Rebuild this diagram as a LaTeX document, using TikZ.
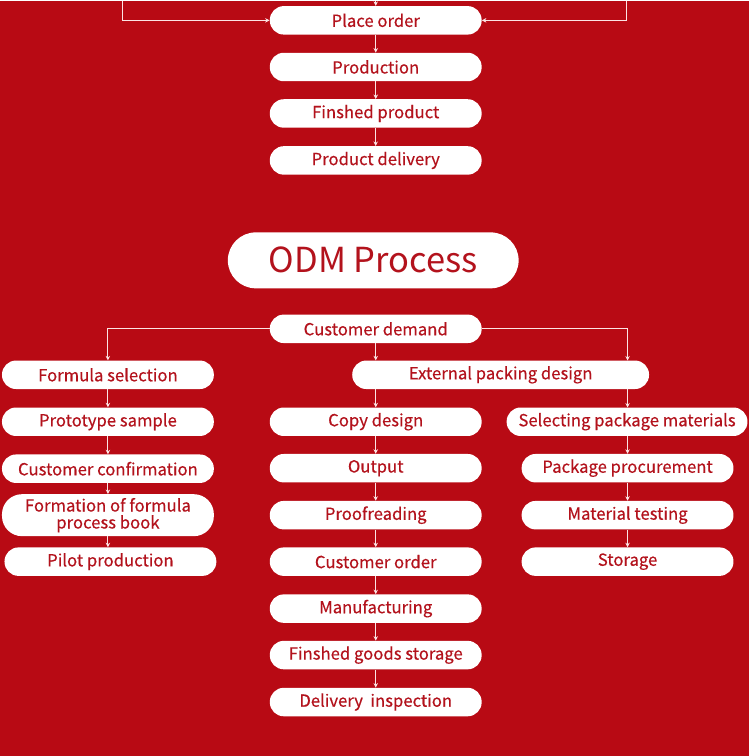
\documentclass[tikz,border=0pt]{standalone}
\usepackage{fontspec}
\setmainfont{Noto Sans CJK SC}[FakeBold=0.35]
\newfontfamily\odmtitlefont{Noto Sans CJK SC}
\usetikzlibrary{arrows.meta}
\definecolor{odmred}{HTML}{B80A14}
\definecolor{odmtext}{HTML}{B3121C}
\definecolor{odmline}{HTML}{FCE4E4}
\begin{document}
\begin{tikzpicture}[x=1pt,y=-1pt,
  stepbox/.style={fill=white,text=odmtext,rounded corners=14pt,minimum width=212pt,minimum height=28.5pt,inner sep=0pt,font=\fontsize{16.7}{18}\selectfont},
  flow/.style={draw=odmline,line width=1.1pt,-{Stealth[length=4.5pt,width=4.5pt]}}]
\fill[odmred] (0,0) rectangle (750,756);
\coordinate (tl) at (123,0);
\coordinate (tm) at (376,0);
\coordinate (tr) at (626.5,0);
\node[stepbox] (po) at (376,19.8) {Place order};
\node[stepbox] (prod) at (376,66.5) {Production};
\node[stepbox] (fin) at (376,113) {Finshed product};
\node[stepbox] (del) at (376,160) {Product delivery};
\node[stepbox,minimum width=291pt,minimum height=56pt,rounded corners=28pt,font=\odmtitlefont\fontsize{34.5}{38}\selectfont] (title) at (373.5,260) {ODM Process};
\node[stepbox] (cd) at (376,328.5) {Customer demand};
\node[stepbox] (fs) at (108,374.5) {Formula selection};
\node[stepbox] (ps) at (108,421.5) {Prototype sample};
\node[stepbox] (cc) at (108,468.5) {Customer confirmation};
\node[stepbox,minimum height=42pt,rounded corners=20pt,align=center,font=\fontsize{16.7}{17}\selectfont] (ff) at (108,515) {Formation of formula\\process book};
\node[stepbox] (pp) at (110.5,561.5) {Pilot production};
\node[stepbox,minimum width=297pt] (epd) at (501,374.5) {External packing design};
\node[stepbox] (cpd) at (376,421.5) {Copy design};
\node[stepbox] (out) at (376,468) {Output};
\node[stepbox] (pr) at (376,515) {Proofreading};
\node[stepbox] (co) at (376,561.5) {Customer order};
\node[stepbox] (mf) at (376,608.5) {Manufacturing};
\node[stepbox] (fgs) at (376,655) {Finshed goods storage};
\node[stepbox] (di) at (376,702) {Delivery\ \ inspection};
\node[stepbox,minimum width=241pt] (spm) at (627.5,421.5) {Selecting package materials};
\node[stepbox] (ppr) at (628,468) {Package procurement};
\node[stepbox] (mt) at (628,515) {Material testing};
\node[stepbox] (st) at (628,561.5) {Storage};
\draw[flow] (tm) -- (po);
\draw[flow] (tl) |- (po);
\draw[flow] (tr) |- (po);
\foreach \a/\b in {po/prod,prod/fin,fin/del,fs/ps,ps/cc,cc/ff,cpd/out,out/pr,pr/co,co/mf,mf/fgs,fgs/di,ppr/mt,mt/st}
  \draw[flow] (\a) -- (\b);
\draw[flow] (ff.south) -- (ff.south |- pp.north);
\draw[flow] (spm.south -| ppr) -- (ppr);
\draw[flow] (cd.west) -| (fs);
\draw[flow] (cd) -- (cd |- epd.north);
\draw[flow] (cd.east) -| (628,360.25);
\draw[flow] (cpd |- epd.south) -- (cpd);
\draw[flow] (628,388.75) -- (628,407.25);
\end{tikzpicture}
\end{document}
